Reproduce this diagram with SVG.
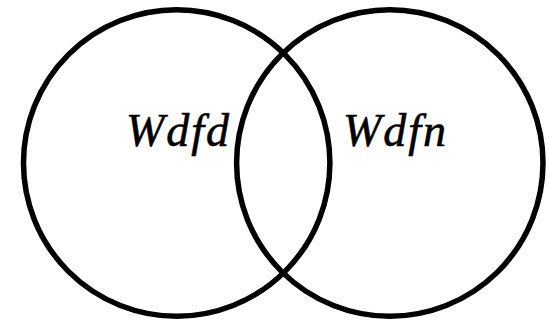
<svg xmlns="http://www.w3.org/2000/svg" width="549" height="321" viewBox="0 0 549 321">
<style>
.c{fill:none;stroke:#000;stroke-width:5.5}
.t{font-family:"Liberation Serif","Times New Roman",serif;font-style:italic;font-size:46px;letter-spacing:2px;fill:#000;stroke:#000;stroke-width:0.6}
</style>
<rect width="549" height="321" fill="#fff"/>
<g id="setA">
<circle class="c" cx="176.7" cy="163" r="153.2"/>
<text class="t" x="126" y="146">Wdfd</text>
</g>
<g id="setB">
<circle class="c" cx="389.8" cy="163" r="153.2"/>
<text class="t" x="343" y="146">Wdfn</text>
</g>
<g id="connectors"></g>
</svg>
